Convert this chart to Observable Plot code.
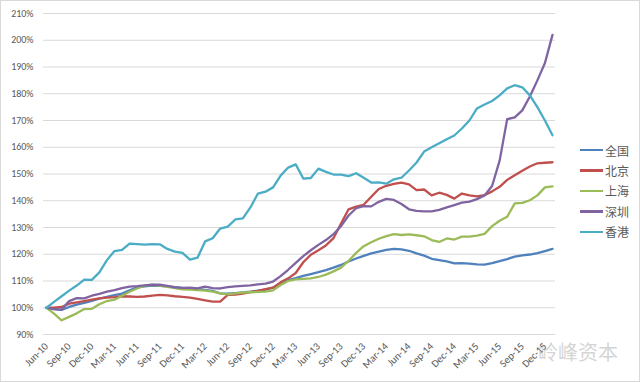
<!DOCTYPE html>
<html><head><meta charset="utf-8">
<script src="https://cdn.jsdelivr.net/npm/d3@7"></script>
<script src="https://cdn.jsdelivr.net/npm/@observablehq/plot@0.6"></script>
<style>
body{margin:0;background:#fff;}
#wrap{position:relative;width:640px;height:382px;overflow:hidden;background:#fff;font-family:Calibri,"Liberation Sans",Arial,sans-serif;}
#frame{position:absolute;left:0;top:0;width:640px;height:382px;box-sizing:border-box;border:1px solid #d9d9d9;pointer-events:none;}
#legend{position:absolute;left:580px;top:140px;font-family:"Noto Sans CJK SC",sans-serif;font-size:12px;color:#595959;}
#legend .row{display:flex;align-items:center;height:20.4px;}
#legend .sw{width:23px;height:2.5px;margin-right:2px;}
#wm{position:absolute;left:538px;top:337px;font-family:"Noto Sans CJK SC",sans-serif;font-size:20px;color:rgba(175,175,175,0.55);}
.xax text{font-size:10.5px;}
</style>
</head><body>
<div id="wrap"><div id="chart"></div><div id="legend"></div><div id="wm">岭峰资本</div><div id="frame"></div></div>
<script>
const months = ["Jun-10","Jul-10","Aug-10","Sep-10","Oct-10","Nov-10","Dec-10",
"Jan-11","Feb-11","Mar-11","Apr-11","May-11","Jun-11","Jul-11","Aug-11","Sep-11","Oct-11","Nov-11","Dec-11",
"Jan-12","Feb-12","Mar-12","Apr-12","May-12","Jun-12","Jul-12","Aug-12","Sep-12","Oct-12","Nov-12","Dec-12",
"Jan-13","Feb-13","Mar-13","Apr-13","May-13","Jun-13","Jul-13","Aug-13","Sep-13","Oct-13","Nov-13","Dec-13",
"Jan-14","Feb-14","Mar-14","Apr-14","May-14","Jun-14","Jul-14","Aug-14","Sep-14","Oct-14","Nov-14","Dec-14",
"Jan-15","Feb-15","Mar-15","Apr-15","May-15","Jun-15","Jul-15","Aug-15","Sep-15","Oct-15","Nov-15","Dec-15",
"Jan-16"];
const xTickLabels = months.filter((d, i) => i % 3 === 0);
const yTicks = [90,100,110,120,130,140,150,160,170,180,190,200,210];
const seriesNames = ["全国","北京","上海","深圳","香港"];
const seriesColors = ["#4F81BD","#C0504D","#9BBB59","#8064A2","#4BACC6"];

const national = [100,99.5,99.2,100.3,101.2,101.8,102.6,103.4,104.1,104.7,105.3,106.5,107.6,108,108.3,108.2,108,107.7,107.4,107.3,107,106.7,106.3,105.4,105.3,105.5,105.7,106,106.4,106.8,107.5,109.2,110.3,111.1,111.9,112.6,113.3,114.1,115,116,117.3,118.4,119.4,120.3,121,121.6,122,121.8,121.3,120.3,119.5,118.3,117.8,117.3,116.6,116.7,116.5,116.2,116.1,116.7,117.4,118.2,119.1,119.6,119.9,120.4,121.2,122];
const beijing = [100,100,100.3,101.5,102,102.5,103,103.5,103.8,104,104.3,104.2,104.1,104.2,104.5,104.8,104.6,104.3,104.1,103.8,103.3,102.8,102.3,102.3,104.8,104.9,105.3,105.8,106.3,107,107.5,109.5,111,113,117,119.8,121.5,123.3,126,131.5,136.8,137.8,138.5,141.5,144.4,145.6,146.3,146.8,146.1,144,144.2,142,143,142.2,140.8,142.7,142,141.6,142.1,143.5,145.2,147.8,149.5,151.2,152.8,154,154.2,154.4];
const shanghai = [100,97.8,95.3,96.6,97.9,99.5,99.6,101.3,102.5,103,104.5,106,107.2,108.3,108.6,108.3,107.8,107.3,106.9,106.8,106.6,106.4,106,105.4,105,105.4,105.7,105.8,105.9,106,106.5,108.5,110,110.6,110.8,111,111.5,112.4,113.6,115,117.5,120.5,123,124.5,125.8,126.8,127.5,127.2,127.4,127.1,126.7,125.3,124.6,125.9,125.5,126.6,126.6,127,127.6,130.5,132.5,134,139,139.2,140.2,142,145,145.4];
const shenzhen = [100,99.5,99.3,102.5,103.6,103.5,104.5,105.2,106,106.6,107.3,107.9,108.1,108.4,108.6,108.6,108.2,107.6,107.4,107.5,107.2,107.9,107.3,107.2,107.7,108,108.2,108.4,108.7,109,109.8,111.8,114.2,116.8,119.3,121.5,123.5,125.3,127.5,130.5,134.5,137.2,138,137.9,139.6,140.7,140.3,138.8,136.8,136.2,136,136,136.6,137.5,138.4,139.3,139.7,140.6,142,145.5,155,170.5,171.2,173.8,179,185,191.5,202];
const hongkong = [100,102.2,104.3,106.4,108.3,110.5,110.4,113.2,117.8,121.2,121.6,124,123.8,123.6,123.8,123.7,122,121,120.5,118,118.7,124.8,126,129.6,130.3,133,133.4,137.5,142.7,143.4,145,149.4,152.4,153.6,148.3,148.5,152,150.8,149.8,149.8,149.2,150.3,148.6,146.8,146.9,146.4,148,148.6,151.3,154.3,158.4,160,161.5,163,164.4,167,170,174.5,176,177.3,179.4,182,183.2,182.4,179.4,175,170,164.5];

const seriesValues = [national, beijing, shanghai, shenzhen, hongkong];
const rows = [];
seriesNames.forEach((name, s) => {
  seriesValues[s].forEach((v, i) => rows.push({series: name, month: months[i], value: v}));
});

const chart = Plot.plot({
  width: 640,
  height: 382,
  marginLeft: 46,
  marginRight: 88,
  marginTop: 13,
  marginBottom: 48,
  style: {fontFamily: "Calibri, 'Liberation Sans', Arial, sans-serif", fontSize: "10px", color: "#595959", background: "transparent"},
  x: {type: "point", domain: months, padding: 0},
  y: {domain: [90, 210]},
  color: {domain: seriesNames, range: seriesColors},
  marks: [
    Plot.ruleY(yTicks, {stroke: "#d9d9d9", strokeWidth: 1, insetLeft: -3, insetRight: -3}),
    Plot.axisY(yTicks, {tickFormat: d => d + "%", label: null, tickSize: 0, tickPadding: 13}),
    Plot.axisX(xTickLabels, {label: null, tickSize: 0, tickPadding: 10, tickRotate: -45, className: "xax"}),
    Plot.line(rows, {x: "month", y: "value", z: "series", stroke: "series", strokeWidth: 2.3, strokeLinejoin: "round"})
  ]
});
document.getElementById("chart").appendChild(chart);

const legend = document.getElementById("legend");
seriesNames.forEach((name, i) => {
  const row = document.createElement("div");
  row.className = "row";
  const sw = document.createElement("div");
  sw.className = "sw";
  sw.style.background = seriesColors[i];
  const t = document.createElement("span");
  t.textContent = name;
  row.appendChild(sw); row.appendChild(t);
  legend.appendChild(row);
});
</script>
</body></html>
